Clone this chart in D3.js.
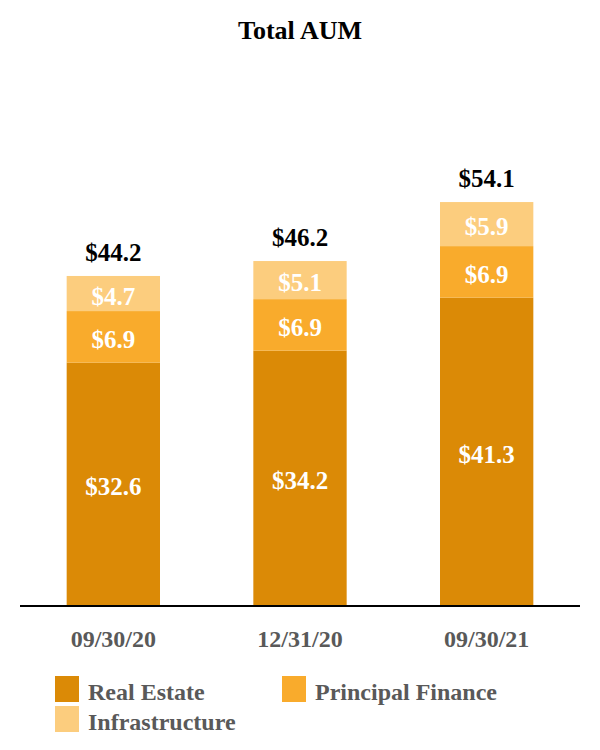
<!DOCTYPE html>
<html><head><meta charset="utf-8">
<script src="https://cdn.jsdelivr.net/npm/d3@7"></script>
<style>body{margin:0;background:#fff}</style>
</head><body><svg id="c" width="600" height="750"></svg>
<script>
const categories = ["09/30/20","12/31/20","09/30/21"];
const seriesNames = ["Real Estate","Principal Finance","Infrastructure"];
const realEstate = [32.6,34.2,41.3];
const principalFinance = [6.9,6.9,6.9];
const infrastructure = [4.7,5.1,5.9];
const totals = [44.2,46.2,54.1];
const colors = ["#DB8A06","#F9AB2C","#FCCD7E"];

const svg = d3.select("#c");
const font = "'Liberation Serif','Times New Roman',serif";
const x = d3.scaleBand().domain(categories).range([20,580]).paddingInner(0.5).paddingOuter(0.25);
const y = d3.scaleLinear().domain([0,60]).range([606,158]);

const rows = categories.map((c,i)=>({cat:c,"Real Estate":realEstate[i],"Principal Finance":principalFinance[i],"Infrastructure":infrastructure[i]}));
const stacked = d3.stack().keys(seriesNames)(rows);

svg.append("text").attr("x",300).attr("y",39).attr("text-anchor","middle")
  .style("font-family",font).style("font-weight","bold").style("font-size","26px").text("Total AUM");

const g = svg.append("g");
stacked.forEach((s,si)=>{
  g.selectAll(null).data(s).enter().append("rect")
    .attr("x",d=>x(d.data.cat)).attr("width",x.bandwidth())
    .attr("y",d=>y(d[1])).attr("height",d=>y(d[0])-y(d[1]))
    .attr("fill",colors[si]);
  g.selectAll(null).data(s).enter().append("text")
    .attr("x",d=>x(d.data.cat)+x.bandwidth()/2)
    .attr("y",d=>(y(d[0])+y(d[1]))/2+11)
    .attr("text-anchor","middle").attr("fill","#fff")
    .style("font-family",font).style("font-weight","bold").style("font-size","25px")
    .text(d=>"$"+(d[1]-d[0]).toFixed(1));
});
g.selectAll(null).data(categories).enter().append("text")
  .attr("x",d=>x(d)+x.bandwidth()/2).attr("y",(d,i)=>y(totals[i])-15)
  .attr("text-anchor","middle").attr("fill","#000")
  .style("font-family",font).style("font-weight","bold").style("font-size","25px")
  .text((d,i)=>"$"+totals[i].toFixed(1));

const ax = svg.append("g").attr("transform","translate(0,606)").call(d3.axisBottom(x).tickSize(0).tickPadding(24));
ax.select(".domain").attr("stroke","#000").attr("stroke-width",2).attr("d","M20,0H580");
ax.selectAll("text").attr("fill","#595959").style("font-family",font).style("font-weight","bold").style("font-size","24px");

const legPos = [[55,676],[282,676],[55,706]];
seriesNames.forEach((n,i)=>{
  const [lx,ly]=legPos[i];
  svg.append("rect").attr("x",lx).attr("y",ly).attr("width",24).attr("height",26).attr("fill",colors[i]);
  svg.append("text").attr("x",lx+33).attr("y",ly+24).attr("fill","#595959")
    .style("font-family",font).style("font-weight","bold").style("font-size","24px").text(n);
});
</script></body></html>
